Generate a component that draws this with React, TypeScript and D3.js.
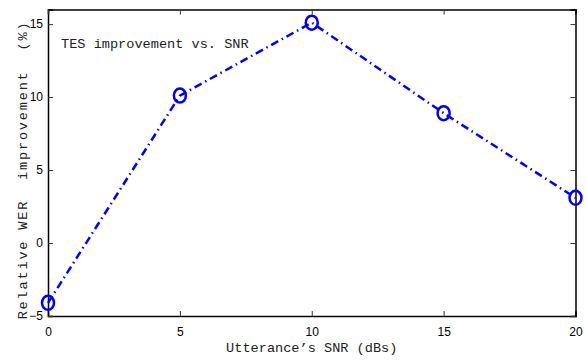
import { useEffect, useRef } from 'react';
import * as d3 from 'd3';

// SNR levels (dBs) and relative WER improvement (%)
const snrLevels = [0, 5, 10, 15, 20];
const werImprovement = [-4.1, 10.1, 15.1, 8.9, 3.1];
const xTicks = [0, 5, 10, 15, 20];
const yTicks = [-5, 0, 5, 10, 15];

const App = () => {
  const svgRef = useRef<SVGSVGElement>(null);

  useEffect(() => {
    const width = 587;
    const height = 360;
    const margin = { top: 9.5, right: 11.5, bottom: 44, left: 48 };

    const svg = d3.select(svgRef.current);
    svg.selectAll('*').remove();
    svg.attr('width', width).attr('height', height);

    svg.append('rect').attr('width', width).attr('height', height).attr('fill', 'white');

    const x = d3.scaleLinear().domain([0, 20]).range([margin.left, width - margin.right]);
    const y = d3.scaleLinear().domain([-5, 16]).range([height - margin.bottom, margin.top]);

    const tickFont = '"Liberation Sans", Arial, sans-serif';
    const monoFont = '"Liberation Mono", "Courier New", monospace';

    // bottom axis (ticks pointing inward)
    const xAxis = svg.append('g')
      .attr('transform', `translate(0, ${y(-5)})`)
      .call(d3.axisBottom(x).tickValues(xTicks).tickSize(-5).tickPadding(11).tickFormat(d3.format('d')));
    xAxis.selectAll('text').attr('font-family', tickFont).attr('font-size', 12).attr('fill', '#000');

    // left axis
    const yAxis = svg.append('g')
      .attr('transform', `translate(${margin.left}, 0)`)
      .call(d3.axisLeft(y).tickValues(yTicks).tickSize(-5).tickPadding(5).tickFormat(d3.format('d')));
    yAxis.selectAll('text').attr('font-family', tickFont).attr('font-size', 12).attr('fill', '#000');

    // mirrored top and right axes
    svg.append('g')
      .attr('transform', `translate(0, ${y(16)})`)
      .call(d3.axisTop(x).tickValues(xTicks).tickSize(-5).tickFormat(() => ''));
    svg.append('g')
      .attr('transform', `translate(${x(20)}, 0)`)
      .call(d3.axisRight(y).tickValues(yTicks).tickSize(-5).tickFormat(() => ''));

    svg.selectAll('.domain').attr('stroke', '#000').attr('stroke-width', 1.5);
    svg.selectAll('.tick line').attr('stroke', '#333');

    const points = snrLevels.map((s, i) => ({ s, v: werImprovement[i] }));

    const line = d3.line<{ s: number; v: number }>()
      .x(d => x(d.s))
      .y(d => y(d.v));

    svg.append('path')
      .datum(points)
      .attr('fill', 'none')
      .attr('stroke', '#0000ff')
      .attr('stroke-width', 2.5)
      .attr('stroke-dasharray', '8,4,1.5,4')
      .attr('d', line);

    svg.selectAll('ellipse.marker')
      .data(points)
      .enter()
      .append('ellipse')
      .attr('class', 'marker')
      .attr('cx', d => x(d.s))
      .attr('cy', d => y(d.v))
      .attr('rx', 6)
      .attr('ry', 7)
      .attr('fill', 'none')
      .attr('stroke', '#0000ff')
      .attr('stroke-width', 2.5);

    // in-plot caption
    svg.append('text')
      .attr('x', 61)
      .attr('y', 48)
      .attr('font-family', monoFont)
      .attr('font-size', 13.6)
      .attr('fill', '#222')
      .text('TES improvement vs. SNR');

    // axis labels
    svg.append('text')
      .attr('x', (x(0) + x(20)) / 2)
      .attr('y', 352)
      .attr('text-anchor', 'middle')
      .attr('font-family', monoFont)
      .attr('font-size', 13.6)
      .attr('fill', '#222')
      .text('Utterance\u2019s SNR (dBs)');

    svg.append('text')
      .attr('x', -170)
      .attr('y', 27)
      .attr('transform', 'rotate(-90)')
      .attr('text-anchor', 'middle')
      .attr('font-family', monoFont)
      .attr('font-size', 13.6)
      .attr('letter-spacing', 1.8)
      .attr('fill', '#222')
      .attr('xml:space', 'preserve')
      .style('white-space', 'pre')
      .text('Relative WER  improvement  (%)');
  }, []);

  return <svg ref={svgRef} style={{ position: 'absolute', left: 0, top: 0 }}></svg>;
};

export default App;
